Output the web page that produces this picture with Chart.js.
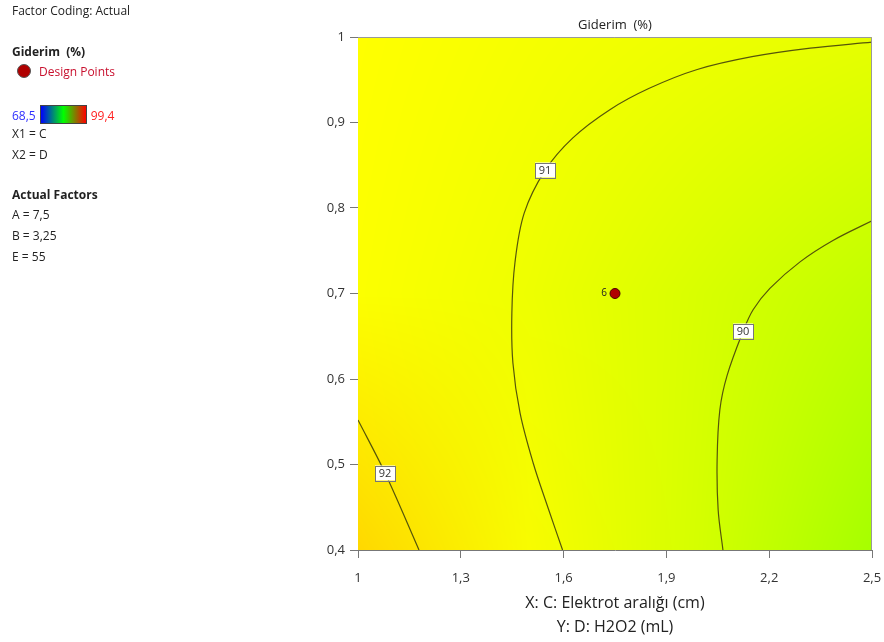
<!DOCTYPE html>
<html>
<head>
<meta charset="utf-8">
<script src="https://cdn.jsdelivr.net/npm/chart.js@4.4.1/dist/chart.umd.min.js"></script>
<style>
body { margin: 0; background: #fff; }
#wrap { position: relative; width: 884px; height: 642px; font-family: "Open Sans", sans-serif; }
#side div { position: absolute; left: 12px; font-size: 12px; line-height: 16px; color: #222; white-space: nowrap; }
#side .b { font-weight: bold; }
#c { position: absolute; left: 0; top: 0; }
</style>
</head>
<body>
<div id="wrap">
  <canvas id="c" width="884" height="642"></canvas>
  <div id="side">
    <div style="top:3px">Factor Coding: Actual</div>
    <div class="b" style="top:44px">Giderim&nbsp; (%)</div>
    <div style="top:64px;left:17px"><span style="display:inline-block;width:12px;height:12px;border-radius:50%;background:#b00000;border:1px solid #555;vertical-align:-2px"></span><span style="color:#c8102e;margin-left:8px">Design Points</span></div>
    <div style="top:105px"><span style="color:#3030ff">68,5</span><span style="display:inline-block;width:45px;height:17px;margin:0 4px 0 4px;vertical-align:-4px;border:1px solid #444;background:linear-gradient(to right,#0000ff,#00ff00 50%,#ff0000)"></span><span style="color:#ff2020">99,4</span></div>
    <div style="top:126px">X1 = C</div>
    <div style="top:147px">X2 = D</div>
    <div class="b" style="top:187px">Actual Factors</div>
    <div style="top:207px">A = 7,5</div>
    <div style="top:228px">B = 3,25</div>
    <div style="top:249px">E = 55</div>
  </div>
</div>
<script>
// axis ticks
const xTicks = [1, 1.3, 1.6, 1.9, 2.2, 2.5]
const yTicks = [0.4, 0.5, 0.6, 0.7, 0.8, 0.9, 1]

// contour lines (C, D)
const c92x = [1, 1.079, 1.178]
const c92y = [0.552, 0.49, 0.4]

const c91x = [1.597, 1.554, 1.511, 1.473, 1.452, 1.449, 1.458, 1.485, 1.546, 1.627, 1.735, 1.85, 1.99, 2.15, 2.32, 2.5]
const c91y = [0.4, 0.45, 0.502, 0.56, 0.619, 0.677, 0.736, 0.794, 0.844, 0.882, 0.915, 0.94, 0.962, 0.977, 0.987, 0.994]

const c90x = [2.065, 2.051, 2.048, 2.056, 2.077, 2.124, 2.153, 2.202, 2.29, 2.386, 2.5]
const c90y = [0.4, 0.447, 0.505, 0.564, 0.604, 0.656, 0.681, 0.706, 0.737, 0.762, 0.785]

// contour labels
const levelText = ['92', '91', '90']
const levelX = [1.079, 1.546, 2.124]
const levelY = [0.49, 0.844, 0.656]

// design point
const designX = [1.75]
const designY = [0.7]
const designLabel = ['6']

// shading colours at x = 1, 1.5, 2, 2.5 for y = 1, 0.7, 0.4
const shadeRows = [
    [[255, 255, 0], [246, 255, 0], [238, 255, 0], [230, 255, 0]],
    [[252, 255, 0], [238, 255, 0], [216, 255, 0], [194, 255, 0]],
    [[255, 216, 0], [248, 252, 0], [212, 255, 0], [166, 255, 0]]
]

const pts = (xs, ys) => xs.map((x, i) => ({ x: x, y: ys[i] }))
const fmt = v => String(+(+v).toFixed(1)).replace('.', ',')
const noPad = s => { s.paddingLeft = 0; s.paddingRight = 0; s.paddingTop = 0; s.paddingBottom = 0 }

const shading = {
    id: 'shading',
    beforeDatasetsDraw (chart) {
        const a = chart.chartArea
        const w = Math.round(a.right - a.left), h = Math.round(a.bottom - a.top)
        const img = chart.ctx.createImageData(w, h)
        const nc = shadeRows[0].length - 1, nr = shadeRows.length - 1
        for (let j = 0; j < h; j++) {
            const fy = j / (h - 1) * nr
            const r0 = Math.min(Math.floor(fy), nr - 1), ty = fy - r0
            for (let i = 0; i < w; i++) {
                const fx = i / (w - 1) * nc
                const c0 = Math.min(Math.floor(fx), nc - 1), tx = fx - c0
                const k = (j * w + i) * 4
                for (let ch = 0; ch < 3; ch++) {
                    const top = shadeRows[r0][c0][ch] * (1 - tx) + shadeRows[r0][c0 + 1][ch] * tx
                    const bot = shadeRows[r0 + 1][c0][ch] * (1 - tx) + shadeRows[r0 + 1][c0 + 1][ch] * tx
                    img.data[k + ch] = top * (1 - ty) + bot * ty
                }
                img.data[k + 3] = 255
            }
        }
        chart.ctx.putImageData(img, Math.round(a.left), Math.round(a.top))
    },
    afterDatasetsDraw (chart) {
        const ctx = chart.ctx, a = chart.chartArea
        const xs = chart.scales.x, ys = chart.scales.y
        ctx.save()
        // frame top / right
        ctx.strokeStyle = '#999'
        ctx.lineWidth = 1
        ctx.beginPath()
        ctx.moveTo(a.left, a.top + 0.5)
        ctx.lineTo(a.right - 0.5, a.top + 0.5)
        ctx.lineTo(a.right - 0.5, a.bottom)
        ctx.stroke()
        // contour level boxes
        ctx.font = '11px "Open Sans", sans-serif'
        ctx.textAlign = 'center'
        ctx.textBaseline = 'middle'
        levelText.forEach((t, i) => {
            const px = Math.round(xs.getPixelForValue(levelX[i])), py = Math.round(ys.getPixelForValue(levelY[i]))
            const bw = Math.round(ctx.measureText(t).width + 7), bh = 15
            ctx.fillStyle = '#fff'
            ctx.fillRect(px - bw / 2, py - bh / 2, bw, bh)
            ctx.strokeStyle = '#777'
            ctx.strokeRect(Math.round(px - bw / 2) + 0.5, Math.round(py - bh / 2) + 0.5, bw, bh)
            ctx.fillStyle = '#333'
            ctx.fillText(t, px, py + 1)
        })
        // design point count
        ctx.font = '10px "Open Sans", sans-serif'
        ctx.textAlign = 'right'
        designLabel.forEach((t, i) => {
            ctx.fillStyle = '#222'
            ctx.fillText(t, xs.getPixelForValue(designX[i]) - 8, ys.getPixelForValue(designY[i]))
        })
        // titles
        ctx.textAlign = 'center'
        ctx.fillStyle = '#222'
        const cx = (a.left + a.right) / 2
        ctx.font = '13px "Open Sans", sans-serif'
        ctx.fillText('Giderim  (%)', cx, 25)
        ctx.font = '16px "Open Sans", sans-serif'
        ctx.fillText('X: C: Elektrot aralığı (cm)', cx, 603)
        ctx.fillText('Y: D: H2O2 (mL)', cx, 627)
        ctx.restore()
    }
}

const line = (xs, ys) => ({
    data: pts(xs, ys), showLine: true, tension: 0.35,
    borderColor: '#55550a', borderWidth: 1.2, pointRadius: 0
})

new Chart(document.getElementById('c'), {
    type: 'scatter',
    data: {
        datasets: [
            line(c92x, c92y),
            line(c91x, c91y),
            line(c90x, c90y),
            {
                data: pts(designX, designY), pointRadius: 5, pointHoverRadius: 5,
                backgroundColor: '#b00000', borderColor: '#4a0000', borderWidth: 1
            }
        ]
    },
    options: {
        responsive: false,
        animation: false,
        events: [],
        layout: { padding: { left: 298, top: 37, right: 12, bottom: 0 } },
        plugins: { legend: { display: false }, tooltip: { enabled: false } },
        scales: {
            x: {
                type: 'linear', min: 1, max: 2.5,
                afterBuildTicks: s => { s.ticks = xTicks.map(v => ({ value: v })) },
                afterFit: s => { s.height = 92; noPad(s) },
                ticks: { callback: fmt, color: '#333', padding: 12, maxRotation: 0, font: { family: 'Open Sans', size: 13 } },
                grid: { drawOnChartArea: false, tickLength: 8, color: '#777' },
                border: { color: '#777' }
            },
            y: {
                type: 'linear', min: 0.4, max: 1,
                afterBuildTicks: s => { s.ticks = yTicks.map(v => ({ value: v })) },
                afterFit: s => { s.width = 60; noPad(s) },
                ticks: { callback: fmt, color: '#333', padding: 5, font: { family: 'Open Sans', size: 13 } },
                grid: { drawOnChartArea: false, tickLength: 8, color: '#777' },
                border: { color: '#777' }
            }
        }
    },
    plugins: [shading]
})
</script>
</body>
</html>
